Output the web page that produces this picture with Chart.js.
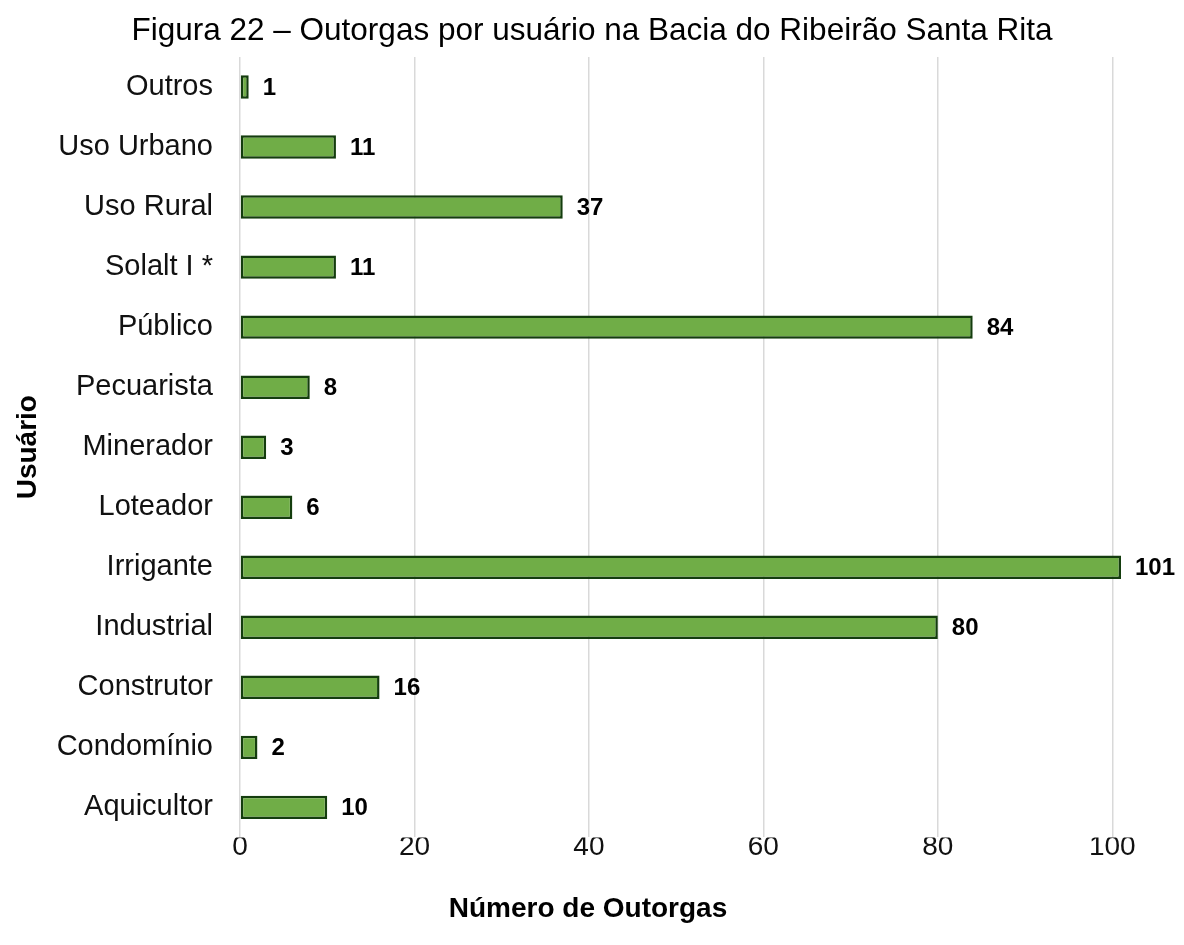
<!DOCTYPE html>
<html>
<head>
<meta charset="utf-8">
<script src="https://cdn.jsdelivr.net/npm/chart.js@4/dist/chart.umd.min.js"></script>
<style>
  html, body { margin: 0; padding: 0; background: #fff; }
  #wrap { width: 1184px; height: 945px; }
</style>
</head>
<body>
<div id="wrap"><canvas id="outorgas"></canvas></div>
<script>
var usuarios = ['Outros', 'Uso Urbano', 'Uso Rural', 'Solalt I *', 'Público', 'Pecuarista',
    'Minerador', 'Loteador', 'Irrigante', 'Industrial', 'Construtor', 'Condomínio', 'Aquicultor'];
var numOutorgas = [1, 11, 37, 11, 84, 8, 3, 6, 101, 80, 16, 2, 10];
var xTicks = [0, 20, 40, 60, 80, 100];

var fontFam = '"Liberation Sans", Arial, sans-serif';

// value labels at the end of each bar
var barLabels = {
    id: 'barLabels',
    afterDatasetsDraw: function (chart) {
        var ctx = chart.ctx;
        var meta = chart.getDatasetMeta(0);
        ctx.save();
        ctx.font = 'bold 24px ' + fontFam;
        ctx.fillStyle = '#000';
        ctx.textBaseline = 'middle';
        ctx.textAlign = 'left';
        meta.data.forEach(function (bar, i) {
            ctx.fillText(String(numOutorgas[i]), bar.x + 14, bar.y + 1);
        });
        ctx.restore();
    }
};

// titles: the figure caption is centred on the page, the x title sits left of centre
var titles = {
    id: 'titles',
    afterDraw: function (chart) {
        var ctx = chart.ctx;
        ctx.save();
        ctx.fillStyle = '#000';
        ctx.textAlign = 'center';
        ctx.textBaseline = 'middle';
        ctx.font = '31.5px ' + fontFam;
        ctx.fillText('Figura 22 – Outorgas por usuário na Bacia do Ribeirão Santa Rita', 592, 31);
        ctx.font = 'bold 28px ' + fontFam;
        ctx.fillText('Número de Outorgas', 588, 909);
        ctx.restore();
    }
};

var ctx = document.getElementById('outorgas').getContext('2d');
var chart = new Chart(ctx, {
    type: 'bar',
    data: {
        labels: usuarios,
        datasets: [{
            label: 'Outorgas',
            data: numOutorgas,
            backgroundColor: '#70AD47',
            borderColor: '#143D0E',
            borderWidth: 2.5,
            borderSkipped: false,
            barPercentage: 0.39,
            categoryPercentage: 1
        }]
    },
    options: {
        indexAxis: 'y',
        responsive: true,
        maintainAspectRatio: false,
        animation: false,
        layout: { padding: { left: 11, right: 63, top: 57, bottom: 88 } },
        plugins: {
            legend: { display: false },
            tooltip: { enabled: false },
            title: { display: false }
        },
        scales: {
            x: {
                min: 0,
                max: 101,
                afterBuildTicks: function (scale) {
                    scale.ticks = xTicks.map(function (v) { return { value: v }; });
                },
                grid: { color: '#d9d9d9', lineWidth: 1.5, drawTicks: false },
                border: { display: false },
                ticks: {
                    color: '#111',
                    padding: -7,
                    maxRotation: 0,
                    font: { family: fontFam, size: 28 }
                }
            },
            y: {
                grid: { display: false },
                border: { display: false },
                afterFit: function (scale) { scale.width = 229; },
                ticks: {
                    color: '#111',
                    padding: 19,
                    font: { family: fontFam, size: 29 }
                },
                title: {
                    display: true,
                    text: 'Usuário',
                    color: '#000',
                    font: { family: fontFam, size: 28, weight: 'bold' },
                    padding: { top: 0, bottom: 0 }
                }
            }
        }
    },
    plugins: [barLabels, titles]
});
</script>
</body>
</html>
